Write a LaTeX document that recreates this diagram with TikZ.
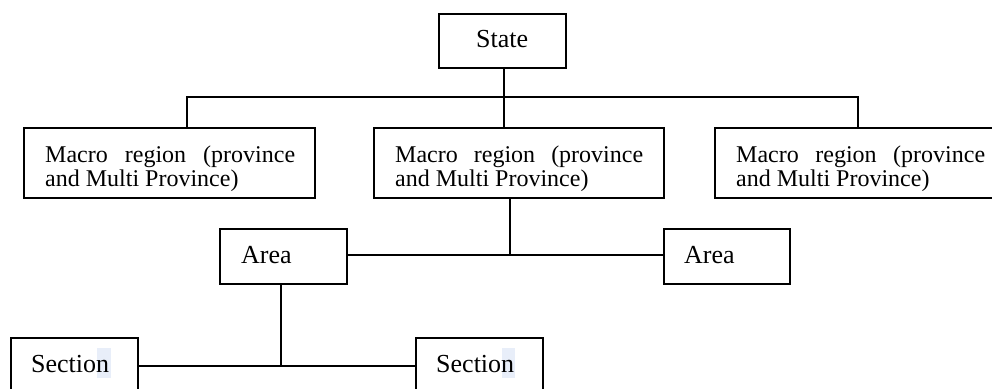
\documentclass[tikz,border=0pt]{standalone}
\usepackage{fontspec}
\setmainfont{Liberation Serif}
\definecolor{hl}{RGB}{232,238,249}
\begin{document}
\begin{tikzpicture}[x=1pt,y=-1pt,
  box/.style={draw, line width=1.5pt, inner sep=0, anchor=north west},
  lbl/.style={anchor=base west, inner sep=0, font=\fontsize{24}{25}\selectfont},
  biglbl/.style={lbl, font=\fontsize{26}{28}\selectfont},
  conn/.style={line width=1.5pt}]
\useasboundingbox (0,0) rectangle (992,388);
\clip (0,0) rectangle (992,388);
% boxes
\node[box, minimum width=127pt, minimum height=54pt] (state) at (438,13) {};
\node[box, minimum width=291pt, minimum height=70pt] (m1) at (23,127) {};
\node[box, minimum width=290pt, minimum height=70pt] (m2) at (373,127) {};
\node[box, minimum width=290pt, minimum height=70pt] (m3) at (714,127) {};
\node[box, minimum width=127pt, minimum height=55pt] (area1) at (219,228) {};
\node[box, minimum width=126pt, minimum height=55pt] (area2) at (663,228) {};
\node[box, minimum width=127pt, minimum height=56pt] (sec1) at (10,337) {};
\node[box, minimum width=127pt, minimum height=56pt] (sec2) at (415,337) {};
% highlights
\fill[hl] (97,348) rectangle (111,378);
\fill[hl] (502,348) rectangle (515,378);
% texts
\node[biglbl] (tstate) at (476,47) {State};
\node[lbl] (t1a) at (45,162) {\makebox[250pt][s]{Macro region (province}};
\node[lbl] (t1b) at (45,186) {and Multi Province)};
\node[lbl] (t2a) at (395,162) {\makebox[248pt][s]{Macro region (province}};
\node[lbl] (t2b) at (395,186) {and Multi Province)};
\node[lbl] (t3a) at (736,162) {\makebox[249pt][s]{Macro region (province}};
\node[lbl] (t3b) at (736,186) {and Multi Province)};
\node[biglbl] (ta1) at (241,263) {Area};
\node[biglbl] (ta2) at (684,263) {Area};
\node[biglbl] (ts1) at (31,372) {Section};
\node[biglbl] (ts2) at (436,372) {Section};
% junctions
\coordinate (j1) at (504,97);
\coordinate (jl) at (187,97);
\coordinate (jr) at (858,97);
\coordinate (j2) at (510,255);
\coordinate (j3) at (281,366);
% connectors
\draw[conn] (j1 |- state.south) -- (j1 |- m2.north);
\draw[conn] (jl |- m1.north) -- (jl) -- (jr) -- (jr |- m3.north);
\draw[conn] (j2 |- m2.south) -- (j2);
\draw[conn] (area1.east |- j2) -- (area2.west |- j2);
\draw[conn] (j3 |- area1.south) -- (j3);
\draw[conn] (sec1.east |- j3) -- (sec2.west |- j3);
\end{tikzpicture}
\end{document}
